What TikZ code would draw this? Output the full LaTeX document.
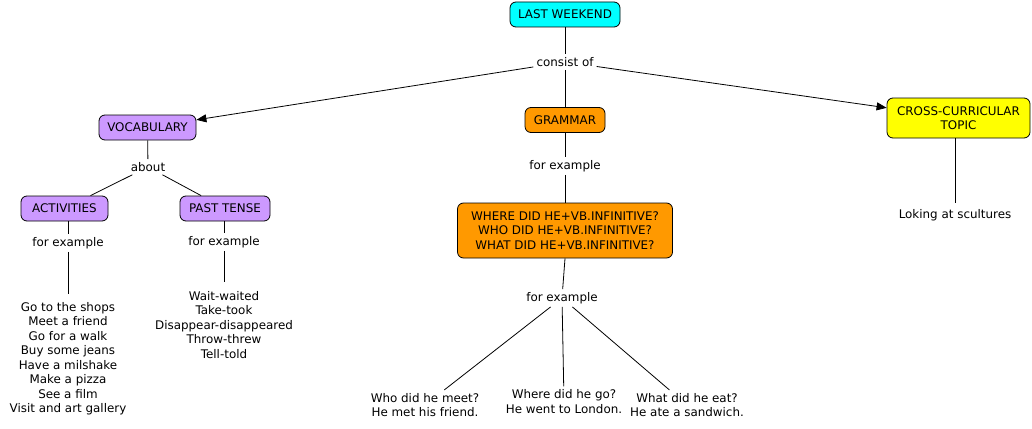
\documentclass[tikz,border=0pt]{standalone}
\usepackage{fontspec}
\setmainfont{DejaVu Sans}
\usetikzlibrary{arrows.meta}
\definecolor{cyanbox}{RGB}{0,255,255}
\definecolor{orangebox}{RGB}{255,153,0}
\definecolor{purplebox}{RGB}{204,153,255}
\definecolor{yellowbox}{RGB}{255,255,0}
\tikzset{
  concept/.style={draw=black, line width=0.8pt, rounded corners=6pt, align=center,
    inner xsep=7.5pt, inner ysep=2pt, minimum height=25pt, text=black,
    font=\fontsize{11.9}{14.5}\selectfont},
  lbl/.style={align=center, inner sep=3pt, text=black, font=\fontsize{11.9}{14.5}\selectfont},
  link/.style={draw=black, line width=0.8pt},
  arrowlink/.style={link, -{Triangle[length=10pt,width=8pt]}}
}
\begin{document}
\begin{tikzpicture}[x=1pt,y=-1pt]
\useasboundingbox[fill=white] (0,0) rectangle (1032,428);
% concepts
\node[concept, fill=cyanbox, minimum width=110pt] (lw) at (565,14.5) {LAST WEEKEND};
\node[lbl] (consist) at (565,62) {consist of};
\node[concept, fill=purplebox, minimum width=97pt] (vocab) at (147.5,127.5) {VOCABULARY};
\node[concept, fill=orangebox, minimum width=80pt] (grammar) at (565,120) {GRAMMAR};
\node[concept, fill=yellowbox, minimum width=143pt, minimum height=40pt] (cross) at (958.5,118) {CROSS-CURRICULAR\\TOPIC};
% vocabulary branch
\node[lbl] (about) at (148,167) {about};
\node[concept, fill=purplebox, minimum width=87pt] (act) at (64.5,208.5) {ACTIVITIES};
\node[concept, fill=purplebox, minimum width=90pt] (past) at (225,208.5) {PAST TENSE};
\node[lbl] (fe1) at (68,243) {for example};
\node[lbl] (fe2) at (224,242) {for example};
\node[lbl] (actlist) at (68,358.5) {Go to the shops\\Meet a friend\\Go for a walk\\Buy some jeans\\Have a milshake\\Make a pizza\\See a film\\Visit and art gallery};
\node[lbl] (pastlist) at (224,325) {Wait-waited\\Take-took\\Disappear-disappeared\\Throw-threw\\Tell-told};
% grammar branch
\node[lbl] (fe3) at (565,166) {for example};
\node[concept, fill=orangebox, minimum width=215pt, minimum height=55pt] (where) at (565,230.5) {WHERE DID HE+VB.INFINITIVE?\\WHO DID HE+VB.INFINITIVE?\\WHAT DID HE+VB.INFINITIVE?};
\node[lbl] (fe4) at (562,298) {for example};
\node[lbl] (q1) at (425,405) {Who did he meet?\\He met his friend.};
\node[lbl] (q2) at (564,401.5) {Where did he go?\\He went to London.};
\node[lbl] (q3) at (687,405) {What did he eat?\\He ate a sandwich.};
% cross-curricular branch
\node[lbl] (sculpt) at (955,215) {Loking at scultures};
% connectors
\draw[link] (lw) -- (consist);
\draw[arrowlink] (consist) -- (vocab);
\draw[link] (consist) -- (grammar);
\draw[arrowlink] (consist) -- (cross);
\draw[link] (vocab) -- (about);
\draw[link] (about) -- (act);
\draw[link] (about) -- (past);
\draw[link] (act.south -| fe1) -- (fe1);
\draw[link] (fe1.south) -- ([yshift=5pt]actlist.north);
\draw[link] (past.south -| fe2) -- (fe2);
\draw[link] (fe2.south) -- ([yshift=6pt]pastlist.north);
\draw[link] (grammar) -- (fe3);
\draw[link] (fe3) -- (where);
\draw[link] (where.south) -- (fe4);
\draw[link] (fe4) -- (q1);
\draw[link] (fe4) -- (q2);
\draw[link] (fe4) -- (q3);
\draw[link] (cross.south -| sculpt) -- ([yshift=3pt]sculpt.north);
\end{tikzpicture}
\end{document}
